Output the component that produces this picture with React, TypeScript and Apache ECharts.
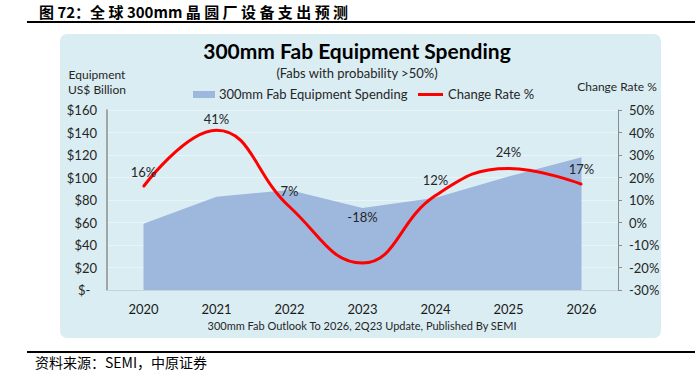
import React, { useEffect, useRef } from "react";
import * as echarts from "echarts";

const years = ["2020", "2021", "2022", "2023", "2024", "2025", "2026"];
const spending = [59, 83, 89, 73, 82, 101, 118];
const changeRate = [16, 41, 7, -18, 12, 24, 17];
const labelOffsets = [[0, 1], [0, 4], [0, 0], [0, -31], [0, 0], [0, -1], [0, 0]];

const FONT = "Lato, 'Open Sans', sans-serif";
const CJK = "'Noto Sans CJK SC', sans-serif";
const TXT = "#262626";

export default function App() {
  const ref = useRef<HTMLDivElement>(null);
  useEffect(() => {
    document.body.style.margin = "0";
    const chart = echarts.init(ref.current!, null, { renderer: "svg" });
    chart.setOption({
      animation: false,
      backgroundColor: "#ffffff",
      grid: { left: 107, right: 80, top: 110, bottom: 81 },
      xAxis: {
        type: "category",
        data: years,
        boundaryGap: true,
        axisLine: { show: true, lineStyle: { color: "#c8d3d8", width: 1 } },
        axisTick: { show: false },
        axisLabel: { margin: 12, fontSize: 13, color: "#1a1a1a", fontFamily: FONT },
      },
      yAxis: [
        {
          type: "value",
          min: 0,
          max: 160,
          interval: 20,
          axisLine: { show: true, lineStyle: { color: "#8c8c8c", width: 1.5 } },
          axisTick: { show: false },
          splitLine: { show: true, lineStyle: { color: "#e9f4f8", width: 1 } },
          axisLabel: {
            margin: 10,
            fontSize: 13,
            color: TXT,
            fontFamily: FONT,
            formatter: (v: number) => (v === 0 ? "$-  " : "$" + v),
          },
        },
        {
          type: "value",
          min: -30,
          max: 50,
          interval: 10,
          position: "right",
          axisLine: { show: true, lineStyle: { color: "#8c8c8c", width: 1 } },
          axisTick: { show: true, length: 4, lineStyle: { color: "#8c8c8c" } },
          splitLine: { show: false },
          axisLabel: {
            margin: 11,
            fontSize: 13,
            color: TXT,
            fontFamily: FONT,
            formatter: (v: number) => v + "%",
          },
        },
      ],
      series: [
        {
          name: "300mm Fab Equipment Spending",
          type: "line",
          data: spending,
          yAxisIndex: 0,
          symbol: "none",
          lineStyle: { width: 0 },
          areaStyle: { color: "#9db8dc", opacity: 1 },
          z: 1,
        },
        {
          name: "Change Rate %",
          type: "line",
          data: changeRate.map((v, i) => ({
            value: v,
            label: { offset: labelOffsets[i] },
          })),
          yAxisIndex: 1,
          smooth: 0.45,
          symbol: "circle",
          symbolSize: 2,
          showSymbol: true,
          lineStyle: { color: "#ff0000", width: 3 },
          itemStyle: { color: "#ff0000" },
          label: {
            show: true,
            position: "top",
            distance: 8,
            fontSize: 13,
            color: TXT,
            fontFamily: FONT,
            formatter: (p: any) => p.value + "%",
          },
          z: 3,
        },
      ],
      graphic: [
        {
          type: "rect",
          z: -10,
          silent: true,
          shape: { x: 60, y: 34, width: 601, height: 304, r: 7 },
          style: { fill: "#daedf3" },
        },
        {
          type: "text",
          x: 39,
          y: 11,
          style: {
            text: "图 72：全 球 300mm 晶 圆 厂 设 备 支 出 预 测",
            font: "bold 15px " + CJK,
            fill: "#000",
            textVerticalAlign: "middle",
          },
        },
        {
          type: "rect",
          shape: { x: 27, y: 21, width: 668, height: 2 },
          style: { fill: "#000" },
        },
        {
          type: "rect",
          shape: { x: 27, y: 351, width: 668, height: 2 },
          style: { fill: "#000" },
        },
        {
          type: "text",
          x: 35,
          y: 362,
          style: {
            text: "资料来源：SEMI，中原证券",
            font: "14px " + CJK,
            fill: "#000",
            textVerticalAlign: "middle",
          },
        },
        {
          type: "text",
          x: 357,
          y: 40,
          style: {
            text: "300mm Fab Equipment Spending",
            font: "bold 21px " + FONT,
            fill: "#000",
            textAlign: "center",
          },
        },
        {
          type: "text",
          x: 357,
          y: 66,
          style: {
            text: "(Fabs with probability >50%)",
            font: "13px " + FONT,
            fill: TXT,
            textAlign: "center",
          },
        },
        {
          type: "text",
          x: 97,
          y: 67,
          style: {
            text: "Equipment\nUS$ Billion",
            font: "12px " + FONT,
            fill: TXT,
            textAlign: "center",
            lineHeight: 15,
          },
        },
        {
          type: "text",
          x: 617,
          y: 80,
          style: {
            text: "Change Rate %",
            font: "12px " + FONT,
            fill: TXT,
            textAlign: "center",
          },
        },
        {
          type: "rect",
          shape: { x: 193, y: 91, width: 22, height: 7 },
          style: { fill: "#9db8dc" },
        },
        {
          type: "text",
          x: 219,
          y: 87,
          style: {
            text: "300mm Fab Equipment Spending",
            font: "13px " + FONT,
            fill: TXT,
          },
        },
        {
          type: "rect",
          shape: { x: 418, y: 93, width: 25, height: 3 },
          style: { fill: "#ff0000" },
        },
        {
          type: "text",
          x: 448,
          y: 87,
          style: {
            text: "Change Rate %",
            font: "13px " + FONT,
            fill: TXT,
          },
        },
        {
          type: "text",
          x: 362,
          y: 320,
          style: {
            text: "300mm Fab Outlook To 2026, 2Q23 Update, Published By SEMI",
            font: "11px " + FONT,
            fill: TXT,
            textAlign: "center",
          },
        },
      ],
    });
    return () => chart.dispose();
  }, []);
  return (
    <div
      ref={ref}
      style={{ position: "fixed", left: 0, top: 0, width: 698, height: 371 }}
    />
  );
}
